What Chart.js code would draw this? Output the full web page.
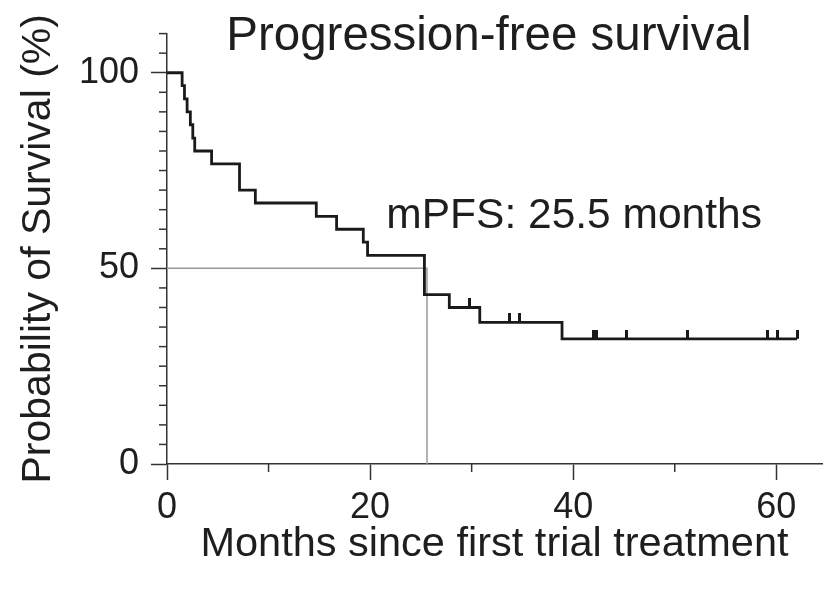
<!DOCTYPE html>
<html>
<head>
<meta charset="utf-8">
<script src="https://cdn.jsdelivr.net/npm/chart.js@4/dist/chart.umd.min.js"></script>
<style>
  html, body { margin: 0; padding: 0; background: #ffffff; }
  #graphique { display: block; }
</style>
</head>
<body>
<canvas id="graphique" width="828" height="593"></canvas>
<script>
// Courbe de Kaplan-Meier : survie sans progression

// Temps (mois) et survie (%) après chaque événement
const tempsEvenements = [0, 1.49, 1.72, 1.98, 2.30, 2.54, 2.73, 4.39, 7.14, 8.70, 14.7, 16.7, 19.33, 19.75, 25.35, 27.8, 30.8, 38.9, 62.05];
const survie = [100, 96.7, 93.3, 90.0, 86.7, 83.3, 80.0, 76.7, 70.0, 66.7, 63.3, 60.0, 56.7, 53.3, 43.3, 40.0, 36.2, 32.0, 32.0];

// Patients censurés (marques verticales)
const tempsCensures = [29.8, 33.7, 34.7, 42.0, 42.3, 45.2, 51.3, 59.1, 60.1, 62.05];
const survieCensures = [40.0, 36.2, 36.2, 32.0, 32.0, 32.0, 32.0, 32.0, 32.0, 32.0];

// Médiane
const medianeMois = 25.6;
const medianeSurvie = 50;

// Graduations
const ticksX = [0, 20, 40, 60];
const ticksY = [0, 50, 100];

const police = "'Liberation Sans', Arial, Helvetica, sans-serif";
const couleurTexte = '#1e1e1e';
const couleurAxe = '#333333';

// Marque de censure : petit trait vertical au-dessus de la courbe
const marque = document.createElement('canvas');
marque.width = 3;
marque.height = 18;
const mctx = marque.getContext('2d');
mctx.fillStyle = '#1a1a1a';
mctx.fillRect(0, 0, 3, 9);

// Petites graduations secondaires (plus courtes)
const pluginGraduations = {
  id: 'graduations',
  afterDraw(chart) {
    const { ctx, chartArea, scales } = chart;
    ctx.save();
    ctx.strokeStyle = couleurAxe;
    ctx.lineWidth = 1.5;
    scales.x.ticks.forEach((t) => {
      if (ticksX.includes(t.value)) return;
      const px = scales.x.getPixelForValue(t.value);
      ctx.beginPath();
      ctx.moveTo(px, chartArea.bottom);
      ctx.lineTo(px, chartArea.bottom + 8);
      ctx.stroke();
    });
    scales.y.ticks.forEach((t) => {
      if (ticksY.includes(t.value)) return;
      const py = scales.y.getPixelForValue(t.value);
      ctx.beginPath();
      ctx.moveTo(chartArea.left, py);
      ctx.lineTo(chartArea.left - 8, py);
      ctx.stroke();
    });
    ctx.restore();
  }
};

// Titre et annotation de la médiane
const pluginTextes = {
  id: 'textes',
  afterDraw(chart) {
    const { ctx, scales } = chart;
    ctx.save();
    ctx.fillStyle = couleurTexte;
    ctx.textBaseline = 'alphabetic';
    ctx.textAlign = 'center';
    ctx.font = `47.5px ${police}`;
    ctx.fillText('Progression-free survival', scales.x.getPixelForValue(31.7), 50);
    ctx.textAlign = 'left';
    ctx.font = `42.5px ${police}`;
    ctx.fillText('mPFS: 25.5 months', scales.x.getPixelForValue(21.6), scales.y.getPixelForValue(60.3));
    ctx.restore();
  }
};

const ctx = document.getElementById('graphique').getContext('2d');

new Chart(ctx, {
  data: {
    datasets: [
      {
        type: 'line',
        data: [
          { x: 0, y: medianeSurvie },
          { x: medianeMois, y: medianeSurvie },
          { x: medianeMois, y: 0 }
        ],
        borderColor: '#9a9a9a',
        borderWidth: 1.5,
        pointRadius: 0,
        order: 3
      },
      {
        type: 'line',
        data: tempsEvenements.map((t, i) => ({ x: t, y: survie[i] })),
        stepped: true,
        borderColor: '#1a1a1a',
        borderWidth: 2.8,
        pointRadius: 0,
        order: 2
      },
      {
        type: 'scatter',
        data: tempsCensures.map((t, i) => ({ x: t, y: survieCensures[i] })),
        pointStyle: marque,
        pointRadius: 5,
        order: 1
      }
    ]
  },
  options: {
    responsive: false,
    animation: false,
    devicePixelRatio: 1,
    layout: { padding: { top: 33, left: 0, right: 0, bottom: 0 } },
    plugins: {
      legend: { display: false },
      tooltip: { enabled: false }
    },
    scales: {
      x: {
        type: 'linear',
        min: 0,
        max: 64.5,
        afterFit: (s) => { s.height = 129; },
        border: { color: couleurAxe, width: 1.5 },
        grid: {
          drawOnChartArea: false,
          tickLength: 16,
          tickWidth: 1.5,
          tickColor: (c) => (c.tick && ticksX.includes(c.tick.value) ? couleurAxe : 'rgba(0,0,0,0)')
        },
        ticks: {
          stepSize: 10,
          includeBounds: false,
          autoSkip: false,
          maxRotation: 0,
          padding: 6,
          color: couleurTexte,
          font: { family: police, size: 36 },
          callback: (v) => (ticksX.includes(v) ? String(v) : '')
        },
        title: {
          display: true,
          text: 'Months since first trial treatment',
          color: couleurTexte,
          font: { family: police, size: 41.5 },
          padding: { top: 0, bottom: 24 }
        }
      },
      y: {
        type: 'linear',
        min: 0,
        max: 110,
        afterFit: (s) => { s.width = 167; },
        border: { color: couleurAxe, width: 1.5 },
        grid: {
          drawOnChartArea: false,
          tickLength: 16,
          tickWidth: 1.5,
          tickColor: (c) => (c.tick && ticksY.includes(c.tick.value) ? couleurAxe : 'rgba(0,0,0,0)')
        },
        ticks: {
          stepSize: 5,
          includeBounds: false,
          autoSkip: false,
          padding: 12,
          color: couleurTexte,
          font: { family: police, size: 36 },
          callback: (v) => (ticksY.includes(v) ? String(v) : '')
        },
        title: {
          display: true,
          text: 'Probability of Survival (%)',
          color: couleurTexte,
          font: { family: police, size: 41 },
          padding: { top: 14, bottom: 0 }
        }
      }
    }
  },
  plugins: [pluginGraduations, pluginTextes]
});
</script>
</body>
</html>
